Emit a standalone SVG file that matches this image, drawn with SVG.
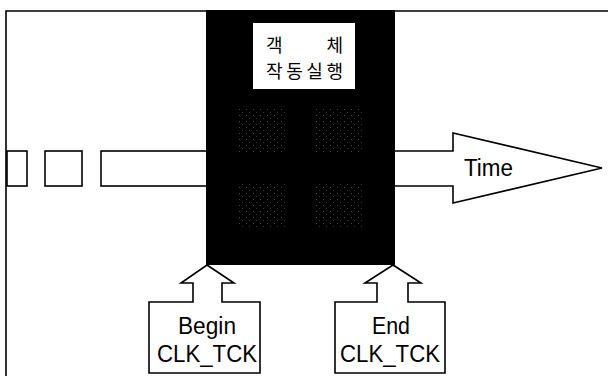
<svg xmlns="http://www.w3.org/2000/svg" width="608" height="376" viewBox="0 0 608 376">
<defs>
<style>
.ln{fill:none;stroke:#000;stroke-width:1.6}
.sh{fill:#fff;stroke:#000;stroke-width:1.6;stroke-linejoin:miter}
.lbl{font-family:"Liberation Sans",Arial,sans-serif;font-size:23px;fill:#000}
.kr{font-family:"Noto Sans CJK KR","Noto Sans",sans-serif;font-size:18px;fill:#000}
</style>
<pattern id="speck" width="7" height="6" patternUnits="userSpaceOnUse">
<rect x="1" y="1" width="1" height="1" fill="#6a6a6a"/>
<rect x="4" y="4" width="1" height="1" fill="#4a4a4a"/>
</pattern>
</defs>
<rect width="608" height="376" fill="#fff"/>
<g id="frame">
<path class="ln" d="M6,376 V11 H608"/>
</g>
<g id="segments">
<rect class="sh" x="7" y="151" width="20" height="35"/>
<rect class="sh" x="45" y="151" width="37" height="35"/>
<rect class="sh" x="101" y="151" width="107" height="35"/>
</g>
<g id="time">
<polygon class="sh" points="393,151 453,151 453,133 602,168 453,203 453,186 393,186"/>
<text class="lbl" x="464" y="176" textLength="49" lengthAdjust="spacingAndGlyphs">Time</text>
</g>
<g id="execution">
<rect x="206" y="10" width="189" height="255" fill="#000"/>
<rect x="238" y="107" width="50" height="45" fill="url(#speck)" opacity="0.7"/>
<rect x="313" y="107" width="49" height="45" fill="url(#speck)" opacity="0.7"/>
<rect x="238" y="182" width="50" height="45" fill="url(#speck)" opacity="0.7"/>
<rect x="313" y="182" width="49" height="45" fill="url(#speck)" opacity="0.7"/>
<rect x="253" y="23" width="102" height="66" fill="#fff"/>
<text class="kr" x="266" y="52" textLength="77" lengthAdjust="spacing">객      체</text>
<text class="kr" x="266" y="78" textLength="77">작동실행</text>
</g>
<g id="begin">
<polygon class="sh" points="207,265 234,283 222,283 222,302 260,302 260,373 149,373 149,302 193,302 193,283 181,283"/>
<text class="lbl" x="207" y="334" text-anchor="middle" textLength="58" lengthAdjust="spacingAndGlyphs">Begin</text>
<text class="lbl" x="207" y="362" text-anchor="middle" textLength="100" lengthAdjust="spacingAndGlyphs">CLK_TCK</text>
</g>
<g id="end">
<polygon class="sh" points="393,265 421,283 408,283 408,302 445,302 445,373 335,373 335,302 377,302 377,283 365,283"/>
<text class="lbl" x="391" y="334" text-anchor="middle" textLength="38" lengthAdjust="spacingAndGlyphs">End</text>
<text class="lbl" x="390" y="362" text-anchor="middle" textLength="100" lengthAdjust="spacingAndGlyphs">CLK_TCK</text>
</g>
</svg>
